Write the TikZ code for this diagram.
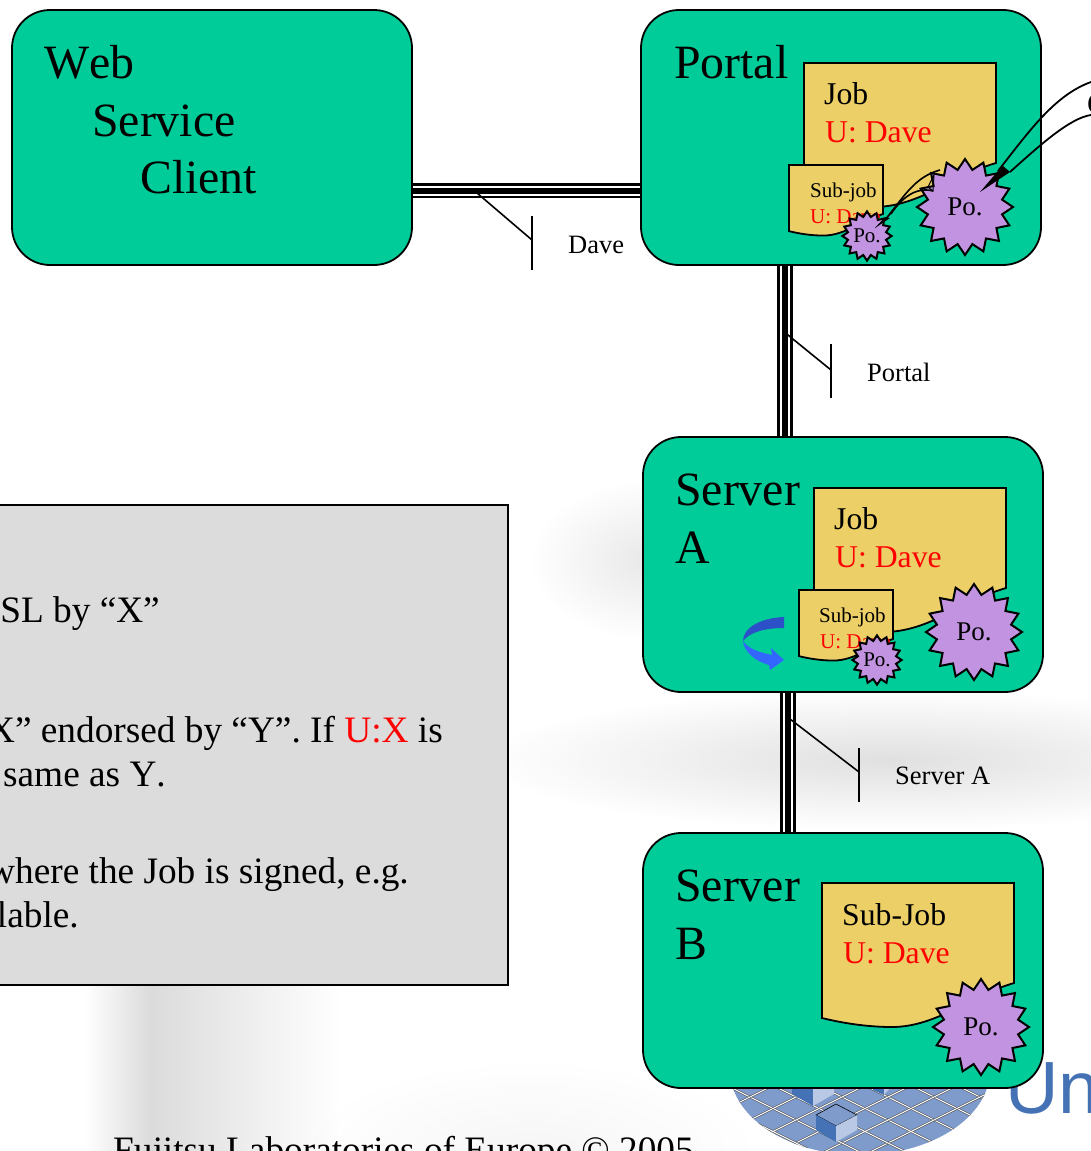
\documentclass[tikz,border=0pt]{standalone}
\usepackage{fontspec}
\setmainfont[Kerning=Off]{Liberation Serif}
\newfontfamily\logofont{Liberation Sans}
\usetikzlibrary{shapes.geometric,fadings}
\definecolor{boxgreen}{HTML}{00CC99}
\definecolor{pagegold}{HTML}{ECCF66}
\definecolor{stampviolet}{HTML}{C193E0}
\definecolor{notegray}{HTML}{DCDCDC}
\definecolor{logoblue}{HTML}{7F9BCB}
\definecolor{logodark}{HTML}{4472B4}
\definecolor{logopale}{HTML}{B9C8E4}
\definecolor{turndark}{HTML}{2B50C8}
\definecolor{turnlight}{HTML}{3366FF}
\tikzfading[name=softblob,inner color=transparent!0,outer color=transparent!100]
\tikzset{
    hostbox/.style={draw,line width=1.8pt,fill=boxgreen,rounded corners=38pt,minimum width=400pt,minimum height=255pt,inner sep=0pt},
    trunk/.style={preaction={draw,line width=15.5pt},preaction={draw,white,line width=10pt},line width=6pt},
    tagline/.style={line width=1.6pt},
    hosttitle/.style={anchor=base west,inner sep=0pt,font=\fontsize{47.8}{57}\selectfont},
    jobtext/.style={anchor=base west,inner sep=0pt,font=\fontsize{31.7}{38}\selectfont},
    subtext/.style={anchor=base west,inner sep=0pt,font=\fontsize{21}{25}\selectfont},
    tagtext/.style={anchor=base west,inner sep=0pt,font=\fontsize{26.5}{32}\selectfont},
    notetext/.style={anchor=base east,inner sep=0pt,font=\fontsize{37.3}{45}\selectfont},
    bigstamp/.style={draw,line width=2pt,fill=stampviolet,shape=star,star points=16,star point ratio=1.27,minimum size=96pt,inner sep=0pt,font=\fontsize{27}{32}\selectfont},
    smallstamp/.style={draw,line width=2pt,fill=stampviolet,shape=star,star points=16,star point ratio=1.27,minimum size=47pt,inner sep=0pt,font=\fontsize{21}{25}\selectfont},
    docpage/.pic={
        \draw[line width=1.8pt,fill=pagegold] (0,0) -- (192,0) -- (192,100)
            .. controls (150,112) and (115,144) .. (70,144)
            .. controls (45,144) and (20,140) .. (0,135) -- cycle;
    },
    smudge/.style={black,fill opacity=0.14,path fading=softblob},
}
\begin{document}
\begin{tikzpicture}[x=1pt,y=-1pt]
    \useasboundingbox (0,0) rectangle (1091,1151);

    % faint backdrop
    \fill[black,fill opacity=0.14,path fading=west] (85,970) rectangle (150,1151);
    \fill[black,fill opacity=0.14,path fading=east] (150,970) rectangle (340,1151);
    \fill[smudge,fill opacity=0.12] (480,690) rectangle (1300,830);
    \fill[smudge,fill opacity=0.09] (530,480) rectangle (770,640);
    \fill[smudge,fill opacity=0.04] (300,1060) rectangle (760,1250);

    % logo behind the lower box
    \begin{scope}
        \clip (860,1070) ellipse [x radius=130,y radius=85];
        \fill[logoblue] (720,980) rectangle (1000,1151);
        \foreach \off in {-10,-9,...,12} {
            \draw[black!70,line width=2.2pt] (720,{967+\off*23}) -- (1000,{1107+\off*23});
            \draw[black!70,line width=2.2pt] (720,{1296-\off*23}) -- (1000,{1156-\off*23});
            \draw[white,line width=1pt] (720,{967+\off*23}) -- (1000,{1107+\off*23});
            \draw[white,line width=1pt] (720,{1296-\off*23}) -- (1000,{1156-\off*23});
        }
        \fill[logodark] (792,1080) -- (813,1080) -- (813,1106) -- (792,1094) -- cycle;
        \fill[logopale] (813,1080) -- (834,1080) -- (834,1094) -- (813,1106) -- cycle;
        \fill[logodark] (873,1080) -- (884,1080) -- (884,1095) -- (873,1090) -- cycle;
        \fill[logopale] (884,1080) -- (897,1080) -- (884,1095) -- cycle;
        \draw[fill=logoblue,line width=0.6pt] (816,1115) -- (836,1104) -- (857,1115) -- (836,1126) -- cycle;
        \fill[logodark] (816,1115) -- (836,1126) -- (836,1142) -- (816,1130) -- cycle;
        \fill[logopale] (836,1126) -- (857,1115) -- (857,1130) -- (836,1142) -- cycle;
    \end{scope}
    \node[anchor=base west,inner sep=0pt,text=logodark,font=\logofont\fontsize{74}{80}\selectfont] (logoname) at (1005,1113) {Un};
    \node[anchor=base west,inner sep=0pt,font=\fontsize{37.3}{40}\selectfont] (footer) at (113,1162) {Fujitsu Laboratories of Europe © 2005};

    \node[hostbox] (webclient) at (212,137.5) {};
    \node[hostbox] (portal) at (841,137.5) {};
    \node[hostbox] (servera) at (843,564.5) {};
    \node[hostbox] (serverb) at (843,960.5) {};

    \draw[trunk] ([yshift=-53pt]webclient.east) -- ([yshift=-53pt]portal.west);
    \draw[trunk] ([xshift=-56pt]portal.south) -- ([xshift=-58pt]servera.north);
    \draw[trunk] ([xshift=-55pt]servera.south) -- ([xshift=-55pt]serverb.north);

    \coordinate (daveroot) at (477,193);
    \coordinate (davetag) at (532,240);
    \coordinate (davetop) at (532,216);
    \coordinate (davebot) at (532,270);
    \draw[tagline] (daveroot) -- (davetag);
    \draw[tagline] (davetop) -- (davebot);
    \node[tagtext] (davelabel) at (568,253) {Dave};

    \coordinate (portalroot) at (783,331);
    \coordinate (portaltag) at (831,370);
    \coordinate (portaltop) at (831,344);
    \coordinate (portalbot) at (831,398);
    \draw[tagline] (portalroot) -- (portaltag);
    \draw[tagline] (portaltop) -- (portalbot);
    \node[tagtext] (portallabel) at (867,381) {Portal};

    \coordinate (serverroot) at (790,719);
    \coordinate (servertag) at (859,772);
    \coordinate (servertop) at (859,748);
    \coordinate (serverbot) at (859,802);
    \draw[tagline] (serverroot) -- (servertag);
    \draw[tagline] (servertop) -- (serverbot);
    \node[tagtext] (serverlabel) at (895,784) {Server A};

    % host titles
    \node[hosttitle] (webword) at (44,78) {Web};
    \node[hosttitle] (serviceword) at (92,136) {Service};
    \node[hosttitle] (clientword) at (140,193) {Client};
    \node[hosttitle] (portalword) at (674,78) {Portal};
    \node[hosttitle] (serverawordone) at (675,505) {Server};
    \node[hosttitle] (serverawordtwo) at (675,563) {A};
    \node[hosttitle] (serverbwordone) at (675,901) {Server};
    \node[hosttitle] (serverbwordtwo) at (675,959) {B};

    % portal papers
    \pic at (804,63) {docpage};
    \node[jobtext] (portaljob) at (824,104) {Job};
    \node[jobtext,text=red] (portaluser) at (825,142) {U: Dave};
    \node[bigstamp] (portalstamp) at (965,207) {\raisebox{-1pt}{Po.}};
    \pic[scale=0.49] at (789,165) {docpage};
    \node[subtext] (portalsub) at (810,197) {Sub-job};
    \node[subtext,text=red] (portalsubuser) at (810,223) {U: Dave};
    \node[smallstamp] (portalsubstamp) at (867,236) {Po.};

    % server a papers
    \pic at (814,488) {docpage};
    \node[jobtext] (serverajob) at (834,529) {Job};
    \node[jobtext,text=red] (serverauser) at (835,567) {U: Dave};
    \node[bigstamp] (serverastamp) at (974,632) {\raisebox{-1pt}{Po.}};
    \pic[scale=0.49] at (799,590) {docpage};
    \node[subtext] (serverasub) at (819,622) {Sub-job};
    \node[subtext,text=red] (serverasubuser) at (820,648) {U: Dave};
    \node[smallstamp] (serverasubstamp) at (877,660) {Po.};

    % server b paper
    \pic at (822,883) {docpage};
    \node[jobtext] (serverbjob) at (842,925) {Sub-Job};
    \node[jobtext,text=red] (serverbuser) at (843,963) {U: Dave};
    \node[bigstamp] (serverbstamp) at (981,1027) {\raisebox{-1pt}{Po.}};

    % blue turn arrow
    \fill[turndark] (784,617) .. controls (760,618) and (743,628) .. (743,641)
        .. controls (750,632) and (765,628) .. (784,628) -- cycle;
    \fill[turnlight] (743,641) .. controls (744,652) and (755,661) .. (769,665)
        -- (770,670) -- (784,660) -- (771,648) -- (772,655) .. controls (757,652) and (748,648) .. (743,641) -- cycle;

    % signature callouts
    \coordinate (outerone) at (1091,82);
    \coordinate (outertwo) at (1091,115);
    \coordinate (outerendone) at (998,171);
    \coordinate (outerendtwo) at (1010,172);
    \coordinate (outertip) at (980,192);
    \draw[line width=1.8pt] (outerone) .. controls (1055,95) and (1030,130) .. (outerendone);
    \draw[line width=1.8pt] (outertwo) .. controls (1070,118) and (1040,145) .. (outerendtwo);
    \fill (outerendone) -- (1003,166) -- (outerendtwo) -- (outertip) -- cycle;
    \node[anchor=base west,inner sep=0pt,font=\fontsize{31.5}{38}\selectfont] (cutletter) at (1087,114) {C};

    \coordinate (innerone) at (940,170);
    \coordinate (innertwo) at (933,191);
    \coordinate (innerendone) at (885,220);
    \coordinate (innerendtwo) at (891,214);
    \coordinate (innertip) at (875,228);
    \draw[line width=1.6pt] (innerone) .. controls (915,177) and (905,195) .. (innerendone);
    \draw[line width=1.6pt] (innertwo) .. controls (915,186) and (900,200) .. (innerendtwo);
    \draw[line width=1pt] (934,175) -- (928,187) -- (933,191) -- cycle;
    \fill (885,217) -- (890,218) -- (innertip) -- cycle;
    \fill (innerendone) -- (innerendtwo) -- (innertip) -- cycle;

    % note panel
    \node[draw,line width=1.6pt,fill=notegray,minimum width=540pt,minimum height=480pt,inner sep=0pt] (notepanel) at (238,745) {};
    \node[notetext] (noteone) at (160,622) {SL by “X”};
    \node[notetext] (notetwo) at (443,742) {X” endorsed by “Y”. If \textcolor{red}{U:X} is};
    \node[notetext] (notethree) at (166,786) {same as Y.};
    \node[notetext] (notefour) at (409,883) {where the Job is signed, e.g.};
    \node[notetext] (notefive) at (79,927) {lable.};
\end{tikzpicture}
\end{document}
